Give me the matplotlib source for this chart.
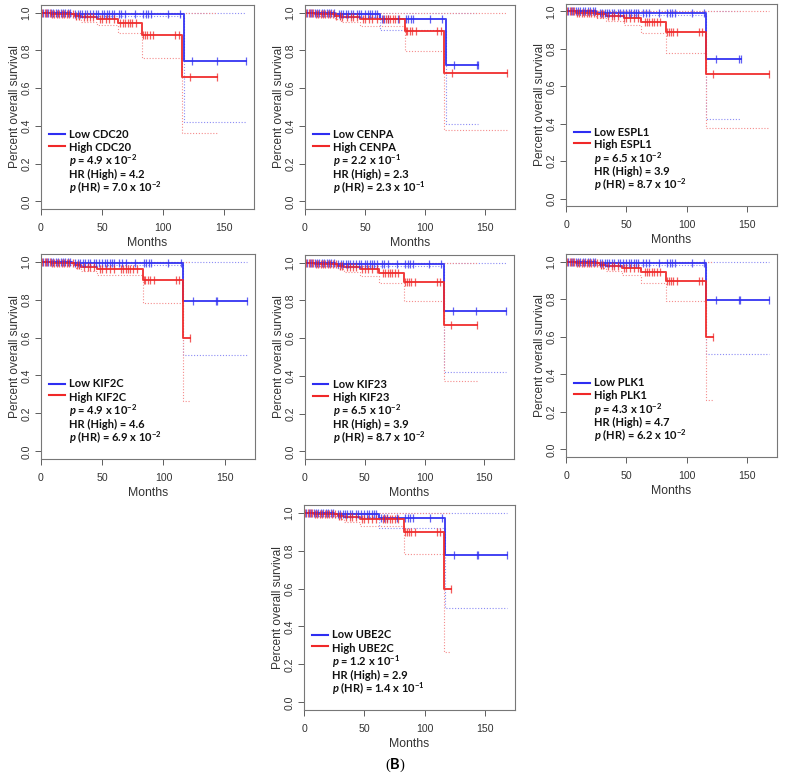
import numpy as np
import matplotlib
matplotlib.use("Agg")
import matplotlib.pyplot as plt

plt.rcParams['font.family'] = ['Liberation Sans', 'DejaVu Sans']
plt.rcParams['mathtext.fontset'] = 'custom'
plt.rcParams['mathtext.rm'] = 'Lato:bold'
plt.rcParams['mathtext.it'] = 'Lato:italic:bold'
plt.rcParams['mathtext.bf'] = 'Lato:bold'

# ---------------- data ----------------
genes = ["CDC20", "CENPA", "ESPL1", "KIF2C", "KIF23", "PLK1", "UBE2C"]
p_text = ["4.9 x 10$^{-2}$", "2.2 x 10$^{-1}$", "6.5 x 10$^{-2}$", "4.9 x 10$^{-2}$",
          "6.5 x 10$^{-2}$", "4.3 x 10$^{-2}$", "1.2 x 10$^{-1}$"]
hr_text = ["4.2", "2.3", "3.9", "4.6", "3.9", "4.7", "2.9"]
p_hr_text = ["7.0 x 10$^{-2}$", "2.3 x 10$^{-1}$", "8.7 x 10$^{-2}$", "6.9 x 10$^{-2}$",
             "8.7 x 10$^{-2}$", "6.2 x 10$^{-2}$", "1.4 x 10$^{-1}$"]

# Low-expression curves (step times, survival, lower CI)
low_t_CDC20 = [0, 25, 117, 168]
low_s_CDC20 = [1.0, 0.993, 0.745, 0.745]
low_lo_CDC20 = [1.0, 0.98, 0.42, 0.42]
low_t_CENPA = [0, 25, 62, 117, 144]
low_s_CENPA = [1.0, 0.99, 0.965, 0.722, 0.722]
low_lo_CENPA = [1.0, 0.975, 0.91, 0.41, 0.41]
low_t_ESPL1 = [0, 25, 116, 145]
low_s_ESPL1 = [1.0, 0.993, 0.745, 0.745]
low_lo_ESPL1 = [1.0, 0.98, 0.425, 0.425]
low_t_KIF2C = [0, 25, 116, 168]
low_s_KIF2C = [1.0, 0.993, 0.795, 0.795]
low_lo_KIF2C = [1.0, 0.98, 0.51, 0.51]
low_t_KIF23 = [0, 25, 116, 168]
low_s_KIF23 = [1.0, 0.993, 0.745, 0.745]
low_lo_KIF23 = [1.0, 0.98, 0.42, 0.42]
low_t_PLK1 = [0, 25, 116, 168]
low_s_PLK1 = [1.0, 0.993, 0.795, 0.795]
low_lo_PLK1 = [1.0, 0.98, 0.51, 0.51]
low_t_UBE2C = [0, 25, 62, 117, 168]
low_s_UBE2C = [1.0, 0.99, 0.97, 0.775, 0.775]
low_lo_UBE2C = [1.0, 0.975, 0.92, 0.50, 0.50]

# High-expression curves
high_t_CDC20 = [0, 8, 28, 33, 46, 63, 83, 116, 144]
high_s_CDC20 = [1.0, 0.993, 0.983, 0.975, 0.965, 0.944, 0.880, 0.658, 0.658]
high_lo_CDC20 = [1.0, 0.98, 0.965, 0.95, 0.935, 0.89, 0.757, 0.365, 0.365]
high_t_CENPA = [0, 8, 25, 30, 46, 83, 116, 168]
high_s_CENPA = [1.0, 0.993, 0.983, 0.975, 0.965, 0.904, 0.680, 0.680]
high_lo_CENPA = [1.0, 0.98, 0.965, 0.95, 0.93, 0.795, 0.377, 0.377]
high_t_ESPL1 = [0, 8, 25, 33, 48, 62, 83, 116, 168]
high_s_ESPL1 = [1.0, 0.993, 0.985, 0.975, 0.963, 0.942, 0.888, 0.665, 0.665]
high_lo_ESPL1 = [1.0, 0.98, 0.965, 0.95, 0.93, 0.885, 0.78, 0.375, 0.375]
high_t_KIF2C = [0, 8, 28, 33, 46, 83, 116, 122]
high_s_KIF2C = [1.0, 0.993, 0.983, 0.973, 0.963, 0.902, 0.600, 0.600]
high_lo_KIF2C = [1.0, 0.98, 0.965, 0.95, 0.93, 0.78, 0.265, 0.265]
high_t_KIF23 = [0, 8, 28, 33, 46, 62, 83, 116, 144]
high_s_KIF23 = [1.0, 0.993, 0.983, 0.975, 0.965, 0.945, 0.895, 0.672, 0.672]
high_lo_KIF23 = [1.0, 0.98, 0.965, 0.95, 0.93, 0.89, 0.795, 0.375, 0.375]
high_t_PLK1 = [0, 8, 28, 33, 46, 62, 83, 116, 122]
high_s_PLK1 = [1.0, 0.993, 0.983, 0.975, 0.965, 0.945, 0.895, 0.598, 0.598]
high_lo_PLK1 = [1.0, 0.98, 0.965, 0.95, 0.93, 0.885, 0.79, 0.265, 0.265]
high_t_UBE2C = [0, 8, 28, 33, 46, 83, 116, 122]
high_s_UBE2C = [1.0, 0.993, 0.983, 0.975, 0.965, 0.900, 0.600, 0.600]
high_lo_UBE2C = [1.0, 0.98, 0.965, 0.95, 0.93, 0.78, 0.265, 0.265]

# censoring times
low_cens_early = [2, 4, 6, 8, 10, 12, 14, 16, 18, 20, 22, 24, 28, 30, 32, 34, 36, 38, 40,
                  43, 45, 47, 50, 52, 54, 56, 58, 60, 64, 66, 69, 77, 84, 86, 88, 90, 104, 114]
high_cens_early = [1, 3, 5, 7, 9, 11, 13, 15, 17, 19, 21, 23, 26, 29, 31, 35, 38, 40, 43,
                   48, 50, 53, 56, 60, 65, 67, 69, 71, 73, 75, 78, 84, 85, 87, 89, 92, 110, 113]
low_cens_tail = {"CDC20": [124, 144, 168], "CENPA": [124, 143, 144], "ESPL1": [124, 143, 145],
                 "KIF2C": [124, 143, 144, 168], "KIF23": [124, 143, 168],
                 "PLK1": [124, 143, 144, 168], "UBE2C": [124, 143, 144, 168]}
high_cens_tail = {"CDC20": [122, 144], "CENPA": [122, 168], "ESPL1": [122, 168],
                  "KIF2C": [122], "KIF23": [122, 144], "PLK1": [122], "UBE2C": [122]}

# ---------------- layout (pixel boxes: left, top, right, bottom) ----------------
W, H = 786, 775
boxes = [(41, 5, 254, 209), (305, 5, 515, 209), (566, 4, 777, 206),
         (41, 254, 255, 459), (305, 255, 514, 459), (566, 254, 777, 457),
         (304, 505, 515, 710)]

BLUE = '#2e2ef2'
RED = '#f02828'
BLUE_CI = '#8c8cf5'
RED_CI = '#f58c8c'

fig = plt.figure(figsize=(W / 100, H / 100), dpi=100)

def step_val(t_arr, s_arr, x):
    idx = np.searchsorted(np.asarray(t_arr), x, side='right') - 1
    return np.asarray(s_arr)[idx]

g = globals()
for i, gene in enumerate(genes):
    l, t, r, b = boxes[i]
    ax = fig.add_axes([l / W, 1 - b / H, (r - l) / W, (b - t) / H])
    lt, ls, llo = g['low_t_' + gene], g['low_s_' + gene], g['low_lo_' + gene]
    ht, hs, hlo = g['high_t_' + gene], g['high_s_' + gene], g['high_lo_' + gene]

    dot = (0, (1, 1.6))
    # confidence bands
    ax.step(lt, llo, where='post', color=BLUE_CI, lw=0.8, ls=dot)
    ax.step([lt[0], lt[-1]], [1.0, 1.0], where='post', color=BLUE_CI, lw=0.8, ls=dot)
    ax.step(ht, hlo, where='post', color=RED_CI, lw=0.8, ls=dot)
    ax.step([ht[0], ht[-1]], [1.0, 1.0], where='post', color=RED_CI, lw=0.8, ls=dot)
    # KM curves
    ax.step(lt, ls, where='post', color=BLUE, lw=1.4, alpha=0.9)
    ax.step(ht, hs, where='post', color=RED, lw=1.4, alpha=0.9)
    # censor marks
    lc = [c for c in low_cens_early if c < lt[-1]] + low_cens_tail[gene]
    hc = [c for c in high_cens_early if c < ht[-1]] + high_cens_tail[gene]
    ax.plot(lc, step_val(lt, ls, lc), ls='none', marker='|', ms=6, mew=0.9, color=BLUE, alpha=0.75)
    ax.plot(hc, step_val(ht, hs, hc), ls='none', marker='|', ms=6, mew=0.9, color=RED, alpha=0.75)

    ax.set_xlim(0, 174.7)
    ax.set_ylim(-0.04, 1.04)
    ax.set_xticks([0, 50, 100, 150])
    ax.set_yticks([0.0, 0.2, 0.4, 0.6, 0.8, 1.0])
    ax.set_yticklabels(['0.0', '0.2', '0.4', '0.6', '0.8', '1.0'], rotation=90, va='center')
    ax.tick_params(axis='both', labelsize=7.6, length=4, width=0.6, color='#444444',
                   labelcolor='#333333', pad=3)
    ax.tick_params(axis='x', pad=6)
    for sp in ax.spines.values():
        sp.set_color('#777777')
        sp.set_linewidth(0.8)
    ax.set_xlabel('Months', fontsize=8.8, color='#333333', labelpad=3)
    ax.set_ylabel('Percent overall survival', fontsize=8.6, color='#333333', labelpad=0.5)

    # legend block
    x0, x1, xt = 0.036, 0.112, 0.132
    ys = [0.366, 0.302, 0.235, 0.170, 0.103]
    ax.plot([x0, x1], [ys[0], ys[0]], transform=ax.transAxes, color=BLUE, lw=1.5)
    ax.plot([x0, x1], [ys[1] + 0.008, ys[1] + 0.008], transform=ax.transAxes, color=RED, lw=1.5)
    lines = ['Low ' + gene, 'High ' + gene, '$p$ = ' + p_text[i],
             'HR (High) = ' + hr_text[i], '$p$ (HR) = ' + p_hr_text[i]]
    for y, s in zip(ys, lines):
        ax.text(xt, y, s, transform=ax.transAxes, fontsize=8.0, fontweight='bold',
                family='Lato', va='center', ha='left', color='#111111')

fig.text(395 / W, 1 - 765 / H, r'($\mathbf{B}$)', ha='center', va='center',
         fontsize=10.5, family='Liberation Serif')

fig.savefig('out.png', dpi=100)
